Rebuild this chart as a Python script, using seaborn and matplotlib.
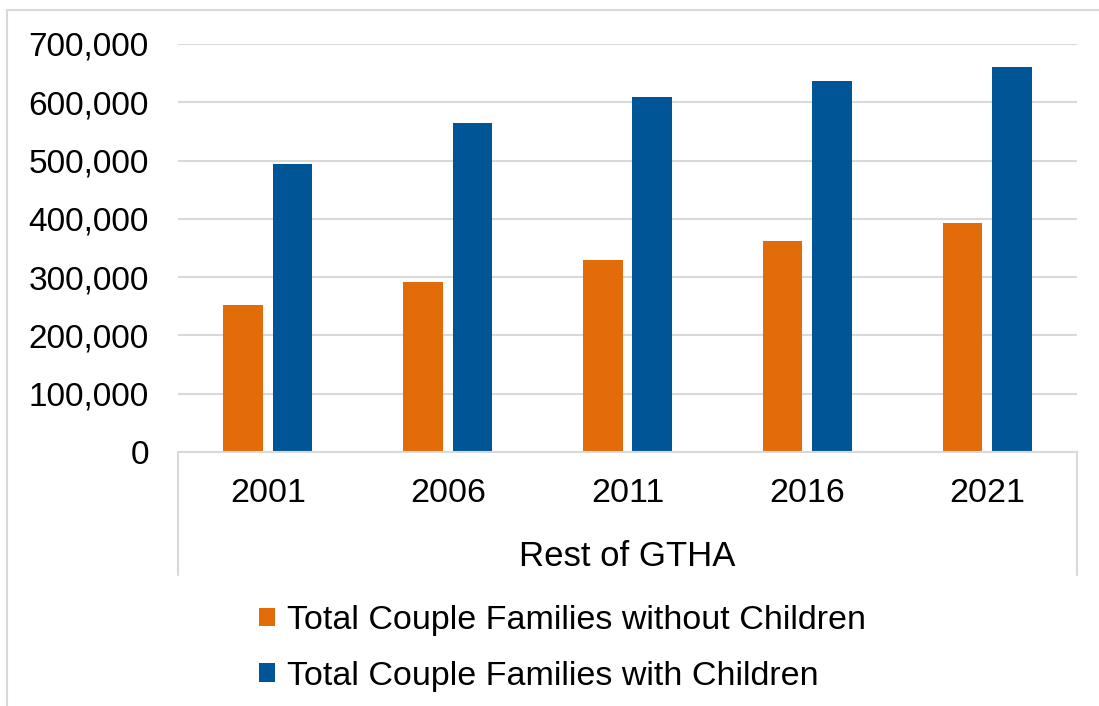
import matplotlib
matplotlib.use("Agg")
import matplotlib.pyplot as plt
from matplotlib.lines import Line2D
from matplotlib.patches import Patch
from matplotlib.ticker import FuncFormatter
import pandas as pd
import seaborn as sns

YEARS = ["2001", "2006", "2011", "2016", "2021"]
WITHOUT_CHILDREN = [253000, 292000, 330000, 362000, 393000]
WITH_CHILDREN = [494000, 565000, 609000, 636000, 660000]
SERIES = ["Total Couple Families without Children", "Total Couple Families with Children"]
COLORS = ["#E36C0A", "#005596"]
GROUP_LABEL = "Rest of GTHA"

GRID = "#d9d9d9"


def build_frame():
    rows = []
    for year, a, b in zip(YEARS, WITHOUT_CHILDREN, WITH_CHILDREN):
        rows.append({"Year": year, "Series": SERIES[0], "Count": a})
        rows.append({"Year": year, "Series": SERIES[1], "Count": b})
    return pd.DataFrame(rows)


def main():
    sns.set_style("white")
    plt.rcParams["font.family"] = ["Liberation Sans", "DejaVu Sans"]

    df = build_frame()
    fig = plt.figure(figsize=(10.99, 7.06), dpi=100)
    ax = fig.add_axes([178 / 1099, 1 - 452 / 706, (1077 - 178) / 1099, (452 - 44) / 706])

    sns.barplot(
        data=df, x="Year", y="Count", hue="Series", order=YEARS, hue_order=SERIES,
        palette=COLORS, width=0.55, gap=0.2, linewidth=0, saturation=1, legend=False, ax=ax,
    )

    ax.set_ylim(0, 700000)
    ax.set_yticks(range(0, 700001, 100000))
    ax.yaxis.set_major_formatter(FuncFormatter(lambda v, _: f"{int(v):,}"))
    ax.set_xlim(-0.5, len(YEARS) - 0.5)
    ax.grid(axis="y", color=GRID, linewidth=1.5)
    ax.set_axisbelow(True)
    for side in ["top", "right", "left"]:
        ax.spines[side].set_visible(False)
    ax.spines["bottom"].set_color(GRID)
    ax.spines["bottom"].set_linewidth(1.5)

    ax.tick_params(axis="y", length=0, pad=21, labelsize=24, colors="black")
    ax.tick_params(axis="x", length=0, pad=19, labelsize=24.5, colors="black")
    ax.set_ylabel("")
    ax.set_xlabel(GROUP_LABEL, fontsize=25, labelpad=22, color="black")

    # category box below the axis
    for xpos in (0, 1):
        ax.add_line(Line2D([xpos, xpos], [0, -0.301], transform=ax.transAxes,
                           color=GRID, linewidth=1.5, clip_on=False))

    handles = [Patch(facecolor=c, edgecolor="none") for c in COLORS]
    fig.legend(
        handles, SERIES, loc="upper left", bbox_to_anchor=(259 / 1099, 1 - 605 / 706),
        frameon=False, fontsize=24.5, labelcolor="black", handlelength=0.47, handleheight=0.47,
        handletextpad=0.36, labelspacing=0.72, borderpad=0, borderaxespad=0,
    )

    # outer frame (top and left edges)
    fig.add_artist(Line2D([7 / 1099, 1], [1 - 10 / 706, 1 - 10 / 706], transform=fig.transFigure,
                          color=GRID, linewidth=1.5))
    fig.add_artist(Line2D([7 / 1099, 7 / 1099], [0, 1 - 10 / 706], transform=fig.transFigure,
                          color=GRID, linewidth=1.5))

    fig.savefig("out.png", dpi=100)
    plt.close(fig)


if __name__ == "__main__":
    main()
